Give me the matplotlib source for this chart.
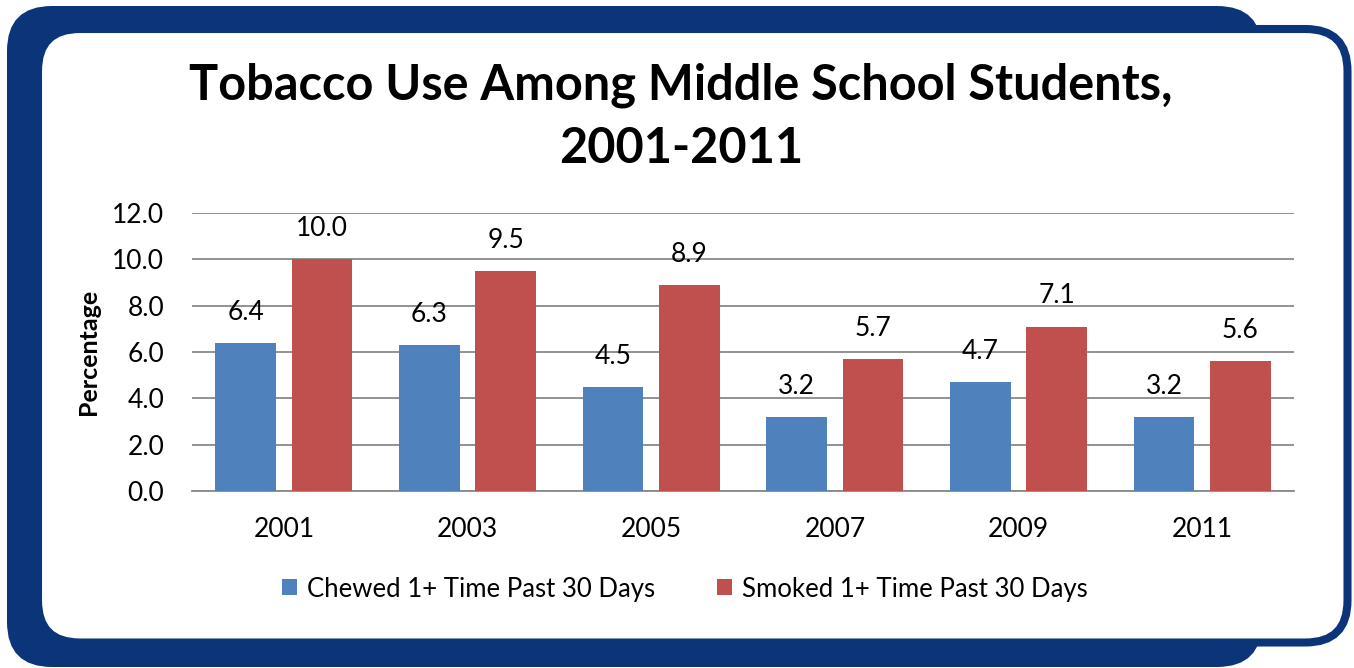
import matplotlib
matplotlib.use("Agg")
import matplotlib.pyplot as plt
from matplotlib.patches import FancyBboxPatch, Patch
import numpy as np

years = ["2001", "2003", "2005", "2007", "2009", "2011"]
chewed = [6.4, 6.3, 4.5, 3.2, 4.7, 3.2]
smoked = [10.0, 9.5, 8.9, 5.7, 7.1, 5.6]
series_names = ["Chewed 1+ Time Past 30 Days", "Smoked 1+ Time Past 30 Days"]
y_ticks = [0, 2, 4, 6, 8, 10, 12]

BLUE = "#4F81BD"
RED = "#C0504D"
FRAME = "#0B3479"
GRID = "#898989"

plt.rcParams["font.family"] = ["Lato", "DejaVu Sans"]

W, H = 1354, 668
fig = plt.figure(figsize=(W / 100, H / 100), dpi=100)

# background frame, drawn in pixel units
bg = fig.add_axes([0, 0, 1, 1])
bg.set_xlim(0, W)
bg.set_ylim(H, 0)
bg.axis("off")
bg.add_patch(FancyBboxPatch((7, 6), 1255, 661, boxstyle="round,pad=0,rounding_size=45",
                            facecolor=FRAME, edgecolor="none"))
bg.add_patch(FancyBboxPatch((38, 29), 1309.5, 613.5, boxstyle="round,pad=0,rounding_size=42",
                            facecolor="white", edgecolor=FRAME, linewidth=5.8))

fig.text(0.503, 1 - 117 / H, "Tobacco Use Among Middle School Students,\n2001-2011",
         ha="center", va="center", fontsize=35, fontweight="bold", linespacing=1.48)

ax = fig.add_axes([192 / W, 1 - 491 / H, (1294 - 192) / W, (491 - 213) / H])
ax.set_facecolor("none")

x = np.arange(len(years))
bw = 0.33
off = 0.208
b1 = ax.bar(x - off, chewed, bw, color=BLUE, zorder=3)
b2 = ax.bar(x + off, smoked, bw, color=RED, zorder=3)

for bars, vals in ((b1, chewed), (b2, smoked)):
    for rect, v in zip(bars, vals):
        ax.annotate(f"{v:.1f}", (rect.get_x() + rect.get_width() / 2, v),
                    xytext=(0, 13), textcoords="offset points",
                    ha="center", va="bottom", fontsize=19)

ax.set_xlim(-0.5, len(years) - 0.5)
ax.set_ylim(0, 12)
ax.set_yticks(y_ticks)
ax.set_yticklabels([f"{t:.1f}" for t in y_ticks], fontsize=19)
ax.set_xticks(x)
ax.set_xticklabels(years, fontsize=19)
ax.tick_params(axis="y", length=0, pad=20)
ax.tick_params(axis="x", length=0, pad=19)
ax.yaxis.grid(True, color=GRID, linewidth=1.3, zorder=0)
for s in ("top", "right", "left"):
    ax.spines[s].set_visible(False)
ax.spines["bottom"].set_color(GRID)
ax.spines["bottom"].set_linewidth(1.3)
ax.set_ylabel("Percentage", fontsize=18, fontweight="bold", labelpad=9)

handles = [Patch(facecolor=BLUE), Patch(facecolor=RED)]
fig.legend(handles, series_names, loc="center", bbox_to_anchor=(0.506, 1 - 589 / H),
           ncol=2, frameon=False, fontsize=18.5, handlelength=0.58, handleheight=0.58,
           handletextpad=0.4, columnspacing=2.4)

fig.savefig("out.png", dpi=100)
